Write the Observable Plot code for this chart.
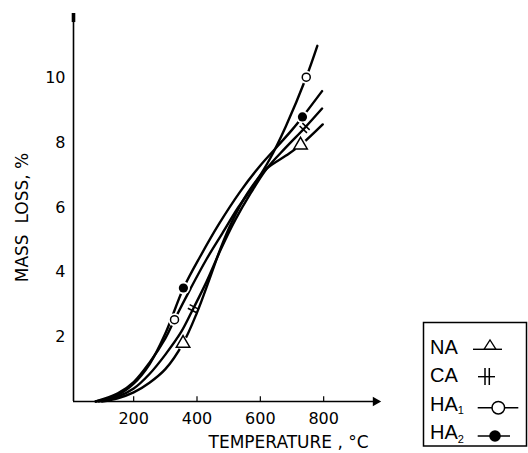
<!DOCTYPE html>
<html><head><meta charset="utf-8">
<script src="https://cdn.jsdelivr.net/npm/d3@7"></script>
<script src="https://cdn.jsdelivr.net/npm/@observablehq/plot@0.6"></script>
<style>body{margin:0;background:#fff}#chart{width:528px;height:453px}</style>
</head><body><div id="chart"></div>
<script>
// ---- data ----
const xTicks = [200, 400, 600, 800];
const yTicks = [2, 4, 6, 8, 10];
const xLabel = "TEMPERATURE , °C";
const yLabel = "MASS  LOSS, %";
const legendNames = ["NA", "CA", "HA", "HA"];
const legendSubs = ["", "", "1", "2"];

const naT = [100, 150, 200, 250, 300, 356, 400, 440, 475, 510, 560, 620, 680, 727, 797];
const naM = [0, 0.1, 0.28, 0.58, 1.0, 1.8, 2.75, 3.8, 4.75, 5.55, 6.45, 7.2, 7.6, 7.93, 8.57];
const caT = [90, 150, 200, 250, 300, 350, 388, 430, 475, 520, 570, 620, 680, 740, 795];
const caM = [0, 0.15, 0.4, 0.85, 1.45, 2.15, 2.87, 3.7, 4.7, 5.6, 6.45, 7.2, 7.85, 8.46, 9.06];
const ha1T = [80, 150, 200, 250, 300, 329, 380, 430, 480, 530, 580, 630, 680, 745, 780];
const ha1M = [0, 0.25, 0.6, 1.2, 1.95, 2.53, 3.5, 4.4, 5.2, 6.0, 6.7, 7.5, 8.5, 10.03, 11.0];
const ha2T = [80, 150, 200, 250, 300, 357, 411, 470, 537, 600, 650, 700, 733, 795];
const ha2M = [0, 0.2, 0.55, 1.15, 2.1, 3.5, 4.5, 5.5, 6.5, 7.3, 7.85, 8.4, 8.8, 9.6];

const naMarkT = [356, 727], naMarkM = [1.80, 7.93];
const caMarkT = [388, 740], caMarkM = [2.87, 8.46];
const ha1MarkT = [329, 745], ha1MarkM = [2.53, 10.03];
const ha2MarkT = [357, 733], ha2MarkM = [3.51, 8.8];

// ---- layout ----
const W = 528, H = 453, mL = 73, mR = 151, mT = 13, mB = 52;
const xDom = [10, 970], yDom = [0, 12];
const kx = (W - mL - mR) / (xDom[1] - xDom[0]);
const ky = (H - mT - mB) / (yDom[1] - yDom[0]);

const zip = (T, M) => T.map((t, i) => ({T: t, M: M[i]}));
const na = zip(naT, naM), ca = zip(caT, caM), ha1 = zip(ha1T, ha1M), ha2 = zip(ha2T, ha2M);
const naMk = zip(naMarkT, naMarkM), caMk = zip(caMarkT, caMarkM);
const ha1Mk = zip(ha1MarkT, ha1MarkM), ha2Mk = zip(ha2MarkT, ha2MarkM);

// direction of the CA curve at each mark (degrees, clockwise)
function angleAt(T, M, t) {
  let i = 1;
  while (i < T.length - 1 && T[i] < t) i++;
  const a = Math.max(0, i - 1), b = Math.min(T.length - 1, i + 1);
  const s = (M[b] - M[a]) / (T[b] - T[a]) * ky / kx;
  return -Math.atan(s) * 180 / Math.PI;
}
caMk.forEach(d => d.rot = angleAt(caT, caM, d.T));

const bars = {draw(ctx, size) {
  const r = Math.sqrt(size / Math.PI);
  ctx.moveTo(-r * 0.4, -r); ctx.lineTo(-r * 0.4, r);
  ctx.moveTo(r * 0.4, -r); ctx.lineTo(r * 0.4, r);
}};

const lineOpts = {x: "T", y: "M", curve: "catmull-rom", stroke: "black", strokeWidth: 2.4};

const chart = Plot.plot({
  width: W, height: H,
  marginLeft: mL, marginRight: mR, marginTop: mT, marginBottom: mB,
  x: {domain: xDom},
  y: {domain: yDom},
  style: {fontFamily: "DejaVu Sans", fontSize: "16px", background: "white", color: "black"},
  marks: [
    Plot.ruleY([0], {stroke: "black", strokeWidth: 1.6}),
    Plot.ruleX([xDom[0]], {stroke: "black", strokeWidth: 1.6}),
    Plot.ruleX([xDom[0]], {y1: 11.72, y2: yDom[1], stroke: "black", strokeWidth: 3.6}),
    Plot.dot([xDom[1] - 6], {x: d => d, y: 0, symbol: "triangle", r: 3.6, fill: "black", rotate: 90}),
    Plot.ruleX(xTicks, {y1: 0, y2: 0.15, stroke: "black", strokeWidth: 1.2}),
    Plot.axisX({ticks: xTicks, tickSize: 0, tickPadding: 11, fontSize: 16, label: null}),
    Plot.axisY({ticks: yTicks, tickSize: 0, tickPadding: 8, fontSize: 16, label: null}),
    Plot.line(na, lineOpts),
    Plot.line(ca, lineOpts),
    Plot.line(ha1, lineOpts),
    Plot.line(ha2, lineOpts),
    Plot.dot([...naMk, ...ha1Mk, ...ha2Mk], {x: "T", y: "M", r: 6.5, fill: "white"}),
    Plot.dot(naMk, {x: "T", y: "M", symbol: "triangle", r: 5, fill: "white", stroke: "black", strokeWidth: 1.5}),
    Plot.dot(ha1Mk, {x: "T", y: "M", r: 4, fill: "white", stroke: "black", strokeWidth: 1.5}),
    Plot.dot(ha2Mk, {x: "T", y: "M", r: 4.6, fill: "black"}),
    Plot.dot(caMk, {x: "T", y: "M", symbol: bars, r: 5, stroke: "black", strokeWidth: 1.5, rotate: "rot"}),
    Plot.text([yLabel], {frameAnchor: "left", dx: -51, dy: 10, rotate: -90, fontSize: 17, textAnchor: "middle", fill: "black"}),
    Plot.text([xLabel], {frameAnchor: "bottom", dx: -17, dy: 41, textAnchor: "start", lineAnchor: "middle", fontSize: 17, fill: "black"})
  ]
});
document.getElementById("chart").appendChild(chart);

// ---- legend (inside the picture, bottom right) ----
const svg = d3.select(chart);
const lg = svg.append("g").attr("font-family", "Liberation Sans, Arial, sans-serif")
  .attr("fill", "black").attr("text-anchor", "start");
lg.append("rect").attr("x", 423.5).attr("y", 322.5).attr("width", 103).attr("height", 123.5)
  .attr("fill", "white").attr("stroke", "black").attr("stroke-width", 1.5);
const base = [354, 382.3, 410.7, 439];
legendNames.forEach((n, i) => {
  const t = lg.append("text").attr("x", 430).attr("y", base[i]).attr("font-size", 20)
    .attr("fill", "black").attr("text-anchor", "start").text(n);
  if (legendSubs[i]) t.append("tspan").attr("font-size", 11).attr("dy", 3.5).attr("fill", "black").text(legendSubs[i]);
});
const ln = (x1, x2, y, w) => lg.append("line").attr("x1", x1).attr("x2", x2).attr("y1", y).attr("y2", y)
  .attr("stroke", "black").attr("stroke-width", w || 1.4);
ln(473, 502, 349.3);
lg.append("path").attr("d", "M484,349.3L496,349.3L490,340Z").attr("fill", "none").attr("stroke", "black").attr("stroke-width", 1.3);
ln(478, 495, 376.7);
lg.append("path").attr("d", "M485,368V385M489.3,368V385").attr("stroke", "black").attr("stroke-width", 1.5);
ln(477.7, 518.3, 407.7);
lg.append("circle").attr("cx", 498.3).attr("cy", 407.7).attr("r", 6.3).attr("fill", "white").attr("stroke", "black").attr("stroke-width", 1.5);
ln(477.7, 510, 436);
lg.append("circle").attr("cx", 495).attr("cy", 436).attr("r", 5.8).attr("fill", "black");
</script>
</body></html>
